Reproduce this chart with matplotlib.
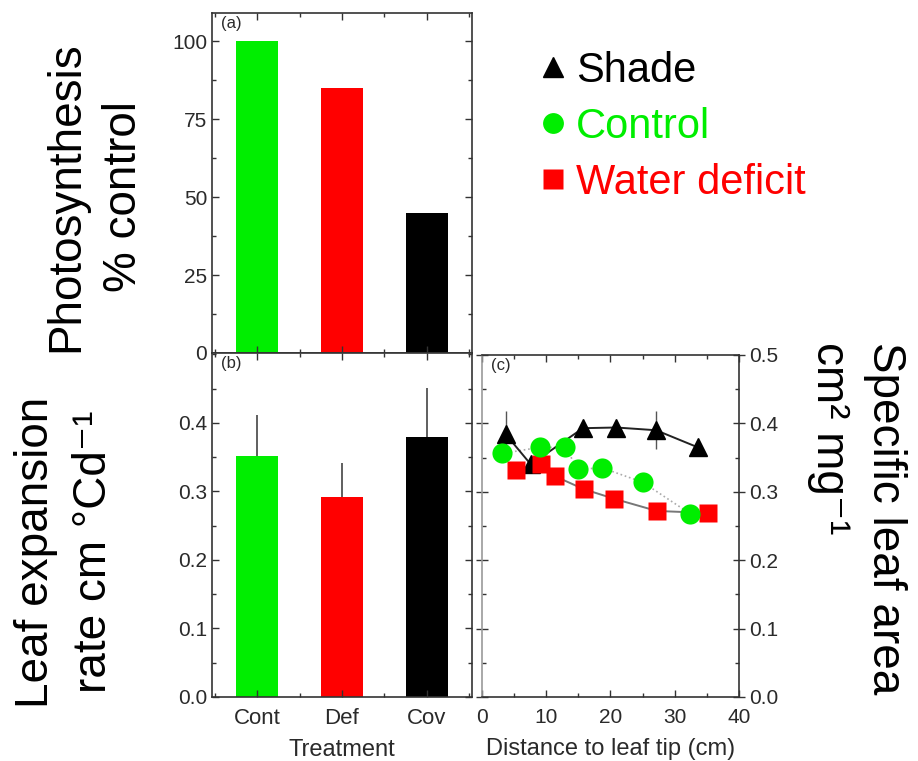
import matplotlib
matplotlib.use("Agg")
import matplotlib.pyplot as plt
from matplotlib.lines import Line2D
from matplotlib.ticker import MultipleLocator

plt.rcParams['font.family'] = ['Liberation Sans', 'DejaVu Sans']

# ---- data ----
treatments = ["Cont", "Def", "Cov"]
bar_colors = ["#00ee00", "#ff0000", "#000000"]
photosynthesis = [100, 85, 45]
expansion_rate = [0.352, 0.292, 0.380]
expansion_err = [0.060, 0.050, 0.071]

shade_x = [3.7, 7.6, 15.7, 20.9, 27.1, 33.6]
shade_y = [0.384, 0.340, 0.393, 0.394, 0.390, 0.365]
shade_err = [0.034, 0.0, 0.0, 0.008, 0.028, 0.0]

control_x = [3.1, 9.0, 12.9, 15.0, 18.7, 25.0, 32.4]
control_y = [0.356, 0.365, 0.365, 0.333, 0.335, 0.314, 0.268]

deficit_x = [5.3, 9.2, 11.3, 15.8, 20.5, 27.2, 35.2]
deficit_y = [0.332, 0.341, 0.323, 0.304, 0.290, 0.272, 0.269]

legend_labels = ["Shade", "Control", "Water deficit"]

# ---- figure ----
W, H = 918, 761
fig = plt.figure(figsize=(W / 100, H / 100), dpi=100)

def frac_box(left, top, right, bottom):
    return [left / W, 1 - bottom / H, (right - left) / W, (bottom - top) / H]

ax_a = fig.add_axes(frac_box(212, 13, 472, 353))
ax_b = fig.add_axes(frac_box(212, 353, 472, 697))
ax_c = fig.add_axes(frac_box(482, 355, 739, 697))

tick_col = "#2a2a2a"
spine_col = "#333333"

def style(ax):
    for s in ax.spines.values():
        s.set_color(spine_col)
        s.set_linewidth(1.2)
    ax.tick_params(which="both", direction="in", top=True, right=True,
                   colors=spine_col, labelcolor=tick_col)
    ax.tick_params(axis="y", labelsize=15)
    ax.tick_params(axis="x", labelsize=16, pad=8)
    ax.tick_params(which="major", length=5, width=1)
    ax.tick_params(which="minor", length=3, width=1)

xpos = [1, 2, 3]

# (a) photosynthesis
ax_a.bar(xpos, photosynthesis, width=0.5, color=bar_colors)
ax_a.set_xlim(0.47, 3.53)
ax_a.set_ylim(0, 109)
ax_a.yaxis.set_major_locator(MultipleLocator(25))
ax_a.yaxis.set_minor_locator(MultipleLocator(12.5))
ax_a.set_xticks(xpos)
ax_a.xaxis.set_minor_locator(MultipleLocator(0.5))
ax_a.set_xticklabels([])
style(ax_a)
ax_a.text(0.035, 0.99, "(a)", transform=ax_a.transAxes, ha="left", va="top",
          fontsize=12, color=tick_col)

# (b) leaf expansion rate
ax_b.bar(xpos, expansion_rate, width=0.5, color=bar_colors)
ax_b.errorbar(xpos, expansion_rate, yerr=[[0, 0, 0], expansion_err],
              fmt="none", ecolor="#444444", elinewidth=1.2, capsize=0)
ax_b.set_xlim(0.47, 3.53)
ax_b.set_ylim(0, 0.502)
ax_b.yaxis.set_minor_locator(MultipleLocator(0.05))
ax_b.yaxis.set_major_formatter(plt.FormatStrFormatter("%.1f"))
ax_b.set_yticks([0.0, 0.1, 0.2, 0.3, 0.4])
ax_b.set_xticks(xpos)
ax_b.xaxis.set_minor_locator(MultipleLocator(0.5))
ax_b.set_xticklabels(treatments)
style(ax_b)
ax_b.set_xlabel("Treatment", fontsize=17, color=tick_col, labelpad=7)
ax_b.text(0.035, 0.99, "(b)", transform=ax_b.transAxes, ha="left", va="top",
          fontsize=12, color=tick_col)

# (c) specific leaf area along the leaf
ax_c.plot(control_x, control_y, color="#aaaaaa", lw=1.2, ls=":", zorder=1)
ax_c.plot(deficit_x, deficit_y, color="#777777", lw=1.4, zorder=1)
ax_c.errorbar(shade_x, shade_y, yerr=shade_err, fmt="none", ecolor="#555555",
              elinewidth=1.0, capsize=0, zorder=1)
ax_c.plot(shade_x, shade_y, color="#222222", lw=1.4, marker="^", ms=13,
          mfc="black", mec="black", zorder=2)
ax_c.plot(deficit_x, deficit_y, ls="none", marker="s", ms=12.5,
          mfc="#ff0000", mec="none", zorder=3)
ax_c.plot(control_x, control_y, ls="none", marker="o", ms=14.5,
          mfc="#00ee00", mec="none", zorder=4)
ax_c.set_xlim(0, 40)
ax_c.set_ylim(0, 0.5)
ax_c.xaxis.set_major_locator(MultipleLocator(10))
ax_c.xaxis.set_minor_locator(MultipleLocator(5))
ax_c.yaxis.set_major_locator(MultipleLocator(0.1))
ax_c.yaxis.set_minor_locator(MultipleLocator(0.05))
ax_c.yaxis.set_major_formatter(plt.FormatStrFormatter("%.1f"))
style(ax_c)
ax_c.tick_params(axis="x", labelsize=15)
ax_c.spines["left"].set_color("#999999")
ax_c.tick_params(axis="y", which="both", labelleft=False, labelright=True)
ax_c.tick_params(axis="y", which="major", direction="inout", length=8)
ax_c.set_xlabel("Distance to leaf tip (cm)", fontsize=17, color=tick_col,
                labelpad=8)
ax_c.text(0.035, 0.99, "(c)", transform=ax_c.transAxes, ha="left", va="top",
          fontsize=12, color=tick_col)

# large axis titles
big = 33
fig.text(95 / W, 1 - 197 / H, "Photosynthesis\n% control", rotation=90,
         ha="center", va="center", fontsize=big, linespacing=1.4)
fig.text(65 / W, 1 - 552 / H, "Leaf expansion\nrate cm \u00b0Cd\u207b\u00b9",
         rotation=90, ha="center", va="center", fontsize=big, linespacing=1.4)
fig.text(857 / W, 1 - 342 / H, "Specific leaf area\ncm\u00b2 mg\u207b\u00b9",
         rotation=-90, ha="center", va="top", fontsize=big, linespacing=1.35,
         multialignment="left")

# legend
handles = [
    Line2D([], [], ls="none", marker="^", ms=14, mfc="black", mec="black"),
    Line2D([], [], ls="none", marker="o", ms=15, mfc="#00ee00", mec="none"),
    Line2D([], [], ls="none", marker="s", ms=14, mfc="#ff0000", mec="none"),
]
fig.legend(handles, legend_labels, loc="upper left",
           bbox_to_anchor=(520 / W, 1 - 30 / H), frameon=False,
           fontsize=30, handlelength=0.6, handletextpad=0.25,
           labelspacing=0.38, borderpad=0,
           labelcolor=["black", "#00ee00", "#ff0000"])

fig.savefig("out.png", dpi=100)
